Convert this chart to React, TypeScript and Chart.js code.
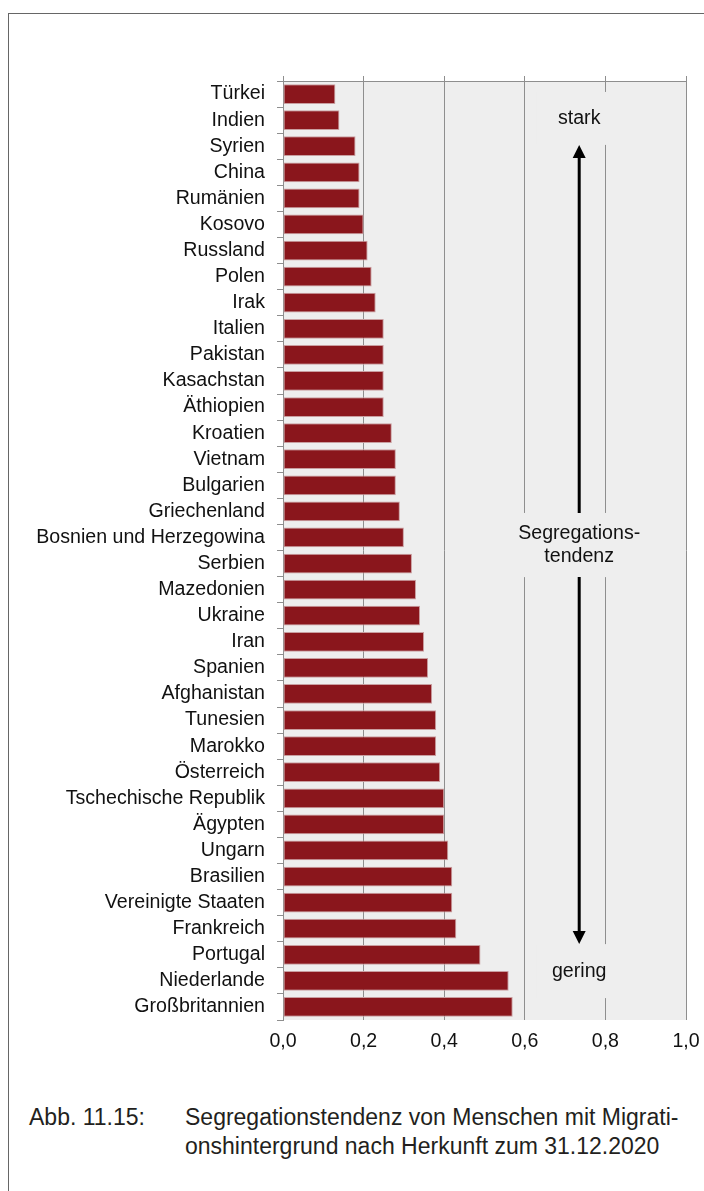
import React, { useEffect, useRef } from 'react';
import { Chart, registerables } from 'chart.js';

Chart.register(...registerables);

const categories = [
  'Türkei', 'Indien', 'Syrien', 'China', 'Rumänien', 'Kosovo', 'Russland', 'Polen', 'Irak',
  'Italien', 'Pakistan', 'Kasachstan', 'Äthiopien', 'Kroatien', 'Vietnam', 'Bulgarien',
  'Griechenland', 'Bosnien und Herzegowina', 'Serbien', 'Mazedonien', 'Ukraine', 'Iran',
  'Spanien', 'Afghanistan', 'Tunesien', 'Marokko', 'Österreich', 'Tschechische Republik',
  'Ägypten', 'Ungarn', 'Brasilien', 'Vereinigte Staaten', 'Frankreich', 'Portugal',
  'Niederlande', 'Großbritannien',
];

const values = [
  0.13, 0.14, 0.18, 0.19, 0.19, 0.20, 0.21, 0.22, 0.23,
  0.25, 0.25, 0.25, 0.25, 0.27, 0.28, 0.28,
  0.29, 0.30, 0.32, 0.33, 0.34, 0.35,
  0.36, 0.37, 0.38, 0.38, 0.39, 0.40,
  0.40, 0.41, 0.42, 0.42, 0.43, 0.49,
  0.56, 0.57,
];

const xMin = 0;
const xMax = 1;
const xStep = 0.2;

const arrowValue = 0.735;
const annotationLabels = [
  { lines: ['stark'], from: -0.08, to: 1.95, xFrom: 0.63, xTo: 0.84 },
  { lines: ['Segregations-', 'tendenz'], from: 16.06, to: 18.52, xFrom: 0.56, xTo: 0.92 },
  { lines: ['gering'], from: 32.59, to: 34.66, xFrom: 0.63, xTo: 0.84 },
];

const captionLabel = 'Abb. 11.15:';
const captionLines = ['Segregationstendenz von Menschen mit Migrati-', 'onshintergrund nach Herkunft zum 31.12.2020'];

const FONT = '"Liberation Sans", Arial, Helvetica, sans-serif';
const FONT_SIZE = 19.6;
const PLOT_BG = '#eeeeee';
const GRID = '#8e8e8e';

const plotBackground = {
  id: 'plotBackground',
  beforeDraw(chart: any) {
    const { ctx, chartArea } = chart;
    ctx.save();
    ctx.fillStyle = PLOT_BG;
    ctx.fillRect(chartArea.left, chartArea.top, chartArea.right - chartArea.left, chartArea.bottom - chartArea.top);
    ctx.restore();
  },
};

const arrowAnnotation = {
  id: 'arrowAnnotation',
  afterDatasetsDraw(chart: any) {
    const { ctx } = chart;
    const xs = chart.scales.x;
    const ys = chart.scales.y;
    const ax = xs.getPixelForValue(arrowValue);
    const boxes = annotationLabels.map((l) => ({
      ...l,
      x1: xs.getPixelForValue(l.xFrom),
      x2: xs.getPixelForValue(l.xTo),
      y1: ys.getPixelForValue(l.from),
      y2: ys.getPixelForValue(l.to),
    }));
    ctx.save();
    boxes.forEach((b) => {
      ctx.fillStyle = PLOT_BG;
      ctx.fillRect(b.x1, b.y1, b.x2 - b.x1, b.y2 - b.y1);
    });
    const head = 13;
    const halfW = 6.5;
    const top = boxes[0].y2;
    const bottom = boxes[2].y1;
    ctx.strokeStyle = '#000';
    ctx.fillStyle = '#000';
    ctx.lineWidth = 3;
    ctx.beginPath();
    ctx.moveTo(ax, top + head - 1);
    ctx.lineTo(ax, boxes[1].y1);
    ctx.moveTo(ax, boxes[1].y2);
    ctx.lineTo(ax, bottom - head + 1);
    ctx.stroke();
    ctx.beginPath();
    ctx.moveTo(ax, top);
    ctx.lineTo(ax - halfW, top + head);
    ctx.lineTo(ax + halfW, top + head);
    ctx.closePath();
    ctx.fill();
    ctx.beginPath();
    ctx.moveTo(ax, bottom);
    ctx.lineTo(ax - halfW, bottom - head);
    ctx.lineTo(ax + halfW, bottom - head);
    ctx.closePath();
    ctx.fill();
    ctx.fillStyle = '#111';
    ctx.font = `${FONT_SIZE}px ${FONT}`;
    ctx.textAlign = 'center';
    ctx.textBaseline = 'middle';
    const lh = 22.5;
    boxes.forEach((b) => {
      const cy = (b.y1 + b.y2) / 2;
      const n = b.lines.length;
      b.lines.forEach((t, i) => {
        ctx.fillText(t, ax, cy + (i - (n - 1) / 2) * lh);
      });
    });
    ctx.restore();
  },
};

export default function App() {
  const ref = useRef<HTMLCanvasElement | null>(null);

  useEffect(() => {
    if (!ref.current) return;
    Chart.defaults.font.family = FONT;
    Chart.defaults.color = '#111';
    const chart = new Chart(ref.current, {
      type: 'bar',
      data: {
        labels: categories,
        datasets: [
          {
            data: values,
            xAxisID: 'x',
            yAxisID: 'y',
            backgroundColor: '#8a161c',
            borderColor: '#c99ea0',
            borderWidth: 1,
            borderSkipped: false,
            barPercentage: 0.76,
            categoryPercentage: 1,
          },
        ],
      },
      options: {
        indexAxis: 'y',
        animation: false,
        responsive: false,
        devicePixelRatio: 1,
        layout: { padding: { left: 0, right: 18, top: 76, bottom: 0 } },
        plugins: {
          legend: { display: false },
          tooltip: { enabled: false },
          title: { display: false },
        },
        scales: {
          x: {
            type: 'linear',
            position: 'bottom',
            min: xMin,
            max: xMax,
            ticks: {
              stepSize: xStep,
              padding: 10,
              font: { size: FONT_SIZE, family: FONT },
              color: '#111',
              callback: (v: any) => Number(v).toFixed(1).replace('.', ','),
            },
            grid: { display: true, drawOnChartArea: true, drawTicks: false, color: GRID, lineWidth: 1 },
            border: { display: false },
            afterFit: (s: any) => { s.height = 50; s.paddingLeft = 0; s.paddingRight = 0; },
          },
          x2: {
            type: 'linear',
            position: 'top',
            min: xMin,
            max: xMax,
            ticks: { stepSize: xStep, display: false },
            grid: { display: true, drawOnChartArea: false, drawTicks: true, tickLength: 5, color: GRID, lineWidth: 1 },
            border: { display: true, color: GRID, width: 1 },
            afterFit: (s: any) => { s.height = 5; s.paddingLeft = 0; s.paddingRight = 0; },
          },
          y: {
            type: 'category',
            position: 'left',
            offset: true,
            ticks: { padding: 12, font: { size: FONT_SIZE, family: FONT }, color: '#111', autoSkip: false },
            grid: { display: true, offset: true, drawOnChartArea: false, drawTicks: true, tickLength: 6, color: GRID, lineWidth: 1 },
            border: { display: true, color: GRID, width: 1 },
            afterFit: (s: any) => { s.width = 283; },
          },
        },
      } as any,
      plugins: [plotBackground, arrowAnnotation],
    });
    return () => chart.destroy();
  }, []);

  return (
    <div style={{ position: 'absolute', left: 0, top: 0, width: 704, height: 1191, overflow: 'hidden', background: '#fff' }}>
      <div style={{ position: 'absolute', left: 8, top: 13, width: 740, height: 1220, border: '1px solid #666', boxSizing: 'border-box' }} />
      <canvas ref={ref} width={704} height={1070} style={{ position: 'absolute', left: 0, top: 0, width: 704, height: 1070 }} />
      <div style={{ position: 'absolute', left: 29, top: 1102.5, fontFamily: FONT, fontSize: 23, lineHeight: '29px', color: '#231f20', whiteSpace: 'nowrap' }}>
        {captionLabel}
      </div>
      <div style={{ position: 'absolute', left: 185, top: 1102.5, fontFamily: FONT, fontSize: 23, lineHeight: '29px', color: '#231f20', whiteSpace: 'nowrap' }}>
        {captionLines.map((l, i) => (
          <div key={i}>{l}</div>
        ))}
      </div>
    </div>
  );
}
